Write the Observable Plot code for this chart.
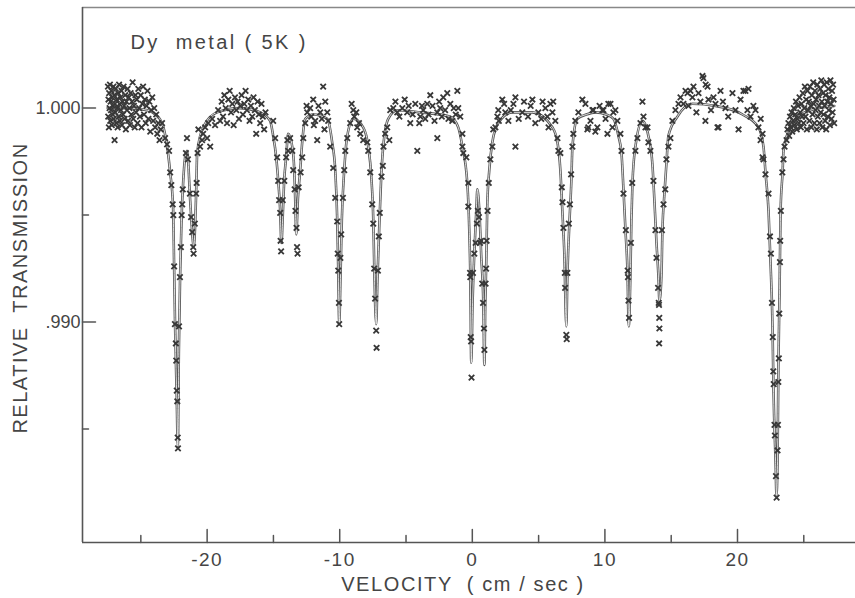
<!DOCTYPE html>
<html><head><meta charset="utf-8">
<script src="https://cdn.jsdelivr.net/npm/d3@7"></script>
<script src="https://cdn.jsdelivr.net/npm/@observablehq/plot@0.6"></script>
<style>
body{margin:0;background:#fff}
#chart svg{display:block}
</style>
</head><body><div id="chart"></div>
<script>
// ---- texts and ticks ----
const chartTitle = "Dy  metal ( 5K )";
const xTitle = "VELOCITY  ( cm / sec )";
const yTitle = "RELATIVE  TRANSMISSION";
const xMajorTicks = [-20, -10, 0, 10, 20];
const xMinorTicks = [-25, -15, -5, 5, 15, 25];
const yMajorTicks = [1.000, 0.990];
const yMinorTicks = [0.995, 0.985];
const yTickLabels = ["1.000", ".990"];
const xDomain = [-29.4, 28.9];
const yDomain = [0.9797, 1.0047];

// ---- fitted curve (velocity, transmission) ----
const fitCurve = [[-27.5,1.0000],[-26.0,1.0000],[-24.5,0.9999],[-23.9,0.9997],[-23.4,0.9993],[-22.79,0.9970],[-22.57,0.9954],[-22.49,0.9926],[-22.42,0.9899],[-22.30,0.9867],[-22.21,0.9842],[-22.13,0.9887],[-22.04,0.9921],[-21.92,0.9950],[-21.81,0.9965],[-21.66,0.9977],[-21.51,0.9980],[-21.28,0.9957],[-21.13,0.9942],[-21.02,0.9935],[-20.90,0.9946],[-20.83,0.9960],[-20.75,0.9979],[-20.30,0.9991],[-19.25,0.9998],[-17.5,1.0000],[-16.0,0.9998],[-15.25,0.9994],[-15.02,0.9987],[-14.79,0.9977],[-14.64,0.9966],[-14.49,0.9952],[-14.40,0.9937],[-14.28,0.9952],[-14.19,0.9966],[-14.04,0.9977],[-13.89,0.9988],[-13.58,0.9982],[-13.43,0.9971],[-13.36,0.9958],[-13.28,0.9941],[-13.15,0.9958],[-12.98,0.9971],[-12.83,0.9984],[-12.60,0.9995],[-12.00,0.9997],[-10.94,0.9995],[-10.57,0.9984],[-10.34,0.9971],[-10.19,0.9948],[-10.11,0.9924],[-10.04,0.9899],[-9.93,0.9924],[-9.84,0.9948],[-9.66,0.9971],[-9.43,0.9987],[-8.98,0.9995],[-8.23,0.9991],[-7.85,0.9982],[-7.62,0.9968],[-7.47,0.9948],[-7.38,0.9921],[-7.25,0.9899],[-7.15,0.9921],[-7.02,0.9944],[-6.87,0.9968],[-6.72,0.9982],[-6.34,0.9995],[-5.66,0.9999],[-3.92,0.9998],[-1.66,0.9996],[-1.06,0.9991],[-0.75,0.9982],[-0.38,0.9965],[-0.23,0.9943],[-0.15,0.9921],[-0.08,0.9881],[0.02,0.9909],[0.15,0.9932],[0.30,0.9952],[0.38,0.9962],[0.53,0.9952],[0.68,0.9930],[0.83,0.9909],[0.91,0.9880],[0.98,0.9909],[1.06,0.9930],[1.13,0.9955],[1.28,0.9971],[1.51,0.9984],[1.96,0.9993],[3.02,0.9998],[4.53,0.9998],[6.04,0.9991],[6.42,0.9984],[6.64,0.9971],[6.79,0.9952],[6.94,0.9932],[7.09,0.9898],[7.17,0.9921],[7.32,0.9946],[7.47,0.9966],[7.55,0.9982],[7.92,0.9995],[8.60,0.9997],[9.30,0.9998],[10.10,0.9997],[10.64,0.9995],[11.02,0.9987],[11.25,0.9979],[11.40,0.9962],[11.55,0.9943],[11.70,0.9924],[11.80,0.9898],[11.92,0.9921],[12.00,0.9948],[12.08,0.9965],[12.30,0.9982],[12.83,0.9994],[13.28,0.9987],[13.58,0.9974],[13.74,0.9956],[13.89,0.9937],[14.04,0.9921],[14.11,0.9910],[14.26,0.9921],[14.34,0.9943],[14.49,0.9960],[14.64,0.9974],[14.79,0.9987],[15.47,0.9996],[16.60,1.0002],[18.34,1.0001],[20.38,0.9997],[21.58,0.9991],[21.96,0.9982],[22.11,0.9970],[22.34,0.9952],[22.49,0.9928],[22.64,0.9898],[22.72,0.9867],[22.87,0.9835],[22.94,0.9819],[23.02,0.9835],[23.09,0.9882],[23.17,0.9913],[23.25,0.9952],[23.40,0.9970],[23.47,0.9980],[23.77,0.9988],[24.23,0.9994],[25.5,0.9999],[27.3,1.0001]];

// ---- measured points (velocity, transmission) ----
const bandLeft = [[-27.48,1.0010],[-27.46,0.9996],[-27.44,1.0004],[-27.41,0.9991],[-27.39,1.0007],[-27.36,1.0000],[-27.33,1.0011],[-27.31,0.9994],[-27.28,1.0003],[-27.25,0.9999],[-27.22,1.0008],[-27.19,0.9992],[-27.16,1.0005],[-27.13,0.9997],[-27.10,1.0001],[-27.07,1.0010],[-27.04,0.9995],[-27.01,1.0006],[-26.98,0.9985],[-26.95,1.0002],[-26.92,0.9998],[-26.88,1.0009],[-26.85,0.9993],[-26.82,1.0004],[-26.78,1.0000],[-26.75,0.9991],[-26.71,1.0007],[-26.68,0.9996],[-26.64,1.0011],[-26.61,1.0002],[-26.57,0.9994],[-26.53,1.0005],[-26.50,0.9999],[-26.46,1.0008],[-26.42,0.9992],[-26.38,1.0003],[-26.34,0.9997],[-26.30,1.0010],[-26.26,1.0001],[-26.22,0.9995],[-26.18,1.0006],[-26.13,0.9990],[-26.09,1.0003],[-26.05,0.9999],[-26.00,1.0009],[-25.96,0.9994],[-25.91,1.0005],[-25.86,1.0000],[-25.82,0.9992],[-25.77,1.0007],[-25.72,0.9997],[-25.67,1.0003],[-25.62,1.0012],[-25.57,0.9995],[-25.52,1.0001],[-25.46,0.9991],[-25.41,1.0006],[-25.36,0.9998],[-25.30,1.0004],[-25.25,0.9993],[-25.19,1.0009],[-25.13,1.0000],[-25.07,0.9996],[-25.01,1.0006],[-24.95,0.9991],[-24.89,1.0002],[-24.83,1.0010],[-24.76,0.9997],[-24.70,1.0004],[-24.63,0.9993],[-24.57,1.0001],[-24.50,1.0008],[-24.43,0.9995],[-24.36,1.0003],[-24.29,0.9989],[-24.22,0.9999],[-24.14,1.0005],[-24.07,0.9994],[-23.99,1.0000],[-23.92,0.9991],[-23.84,0.9997],[-23.76,0.9988],[-23.68,0.9993],[-23.59,0.9985],[-23.50,0.9990]];

const pointsA = [[-23.40,0.9993],[-23.17,0.9986],[-23.02,0.9983],[-22.87,0.9980],[-22.79,0.9970],[-22.70,0.9964],[-22.60,0.9955],[-22.55,0.9950],[-22.49,0.9926],[-22.43,0.9899],[-22.36,0.9890],[-22.33,0.9882],[-22.29,0.9868],[-22.25,0.9863],[-22.22,0.9846],[-22.20,0.9841],[-22.12,0.9898],[-21.98,0.9935],[-22.05,0.9921],[-21.92,0.9950],[-21.88,0.9955],[-21.84,0.9962],[-21.60,0.9979],[-21.52,0.9986],[-21.45,0.9976],[-21.30,0.9960],[-21.21,0.9949],[-21.13,0.9942],[-21.05,0.9935],[-21.02,0.9932],[-20.93,0.9946],[-20.83,0.9960],[-20.79,0.9965],[-20.72,0.9979],[-20.66,0.9990],[-20.53,0.9982],[-20.38,0.9985],[-20.30,0.9988],[-20.15,0.9991],[-20.00,0.9986],[-19.92,0.9993],[-19.77,0.9982],[-19.62,0.9995],[-19.40,0.9992],[-19.17,0.9999],[-19.02,0.9994],[-18.90,1.0003],[-18.80,0.9996],[-18.70,1.0006],[-18.60,1.0000],[-18.50,0.9993],[-18.40,1.0004],[-18.30,1.0008],[-18.20,0.9998],[-18.10,1.0002],[-18.00,0.9992],[-17.90,1.0005],[-17.80,0.9999],[-17.70,1.0003],[-17.60,0.9995],[-17.50,1.0001],[-17.40,1.0006],[-17.30,0.9997],[-17.20,1.0002],[-17.10,1.0008],[-17.00,0.9999],[-16.90,1.0004],[-16.80,0.9994],[-16.70,1.0001],[-16.60,0.9996],[-16.50,1.0005],[-16.40,0.9999],[-16.30,0.9988],[-16.20,1.0003],[-16.10,0.9997],[-16.00,0.9993],[-15.90,1.0002],[-15.80,0.9996],[-15.70,0.9990],[-15.60,0.9998]];

const pointsB = [[-15.02,0.9994],[-14.87,0.9986],[-14.72,0.9977],[-14.64,0.9966],[-14.57,0.9957],[-14.49,0.9951],[-14.46,0.9938],[-14.42,0.9933],[-14.30,0.9957],[-14.18,0.9966],[-14.04,0.9977],[-13.95,0.9985],[-13.89,0.9980],[-13.74,0.9986],[-13.58,0.9980],[-13.51,0.9971],[-13.40,0.9962],[-13.34,0.9952],[-13.26,0.9944],[-13.22,0.9935],[-13.18,0.9932],[-13.10,0.9963],[-12.95,0.9970],[-12.83,0.9977],[-12.75,0.9986],[-12.60,0.9993],[-12.50,1.0001],[-12.45,0.9998],[-12.23,1.0000],[-12.15,0.9996],[-12.00,1.0004],[-11.95,0.9992],[-11.85,0.9994],[-11.70,0.9985],[-11.60,1.0001],[-11.47,0.9998],[-11.35,0.9995],[-11.25,1.0010],[-11.15,0.9990],[-11.09,1.0003],[-10.94,0.9998],[-10.87,0.9994],[-10.72,0.9982],[-10.49,0.9972],[-10.34,0.9958],[-10.19,0.9947],[-10.15,0.9932],[-10.11,0.9924],[-10.06,0.9909],[-10.04,0.9899],[-9.95,0.9930],[-9.89,0.9941],[-9.76,0.9958],[-9.66,0.9971],[-9.58,0.9980],[-9.43,0.9986],[-9.21,0.9993],[-9.10,1.0002],[-8.98,0.9999],[-8.90,0.9996],[-8.75,0.9998],[-8.68,0.9991],[-8.55,0.9993],[-8.45,0.9988],[-8.23,0.9985],[-7.92,0.9984],[-7.85,0.9980],[-7.70,0.9970],[-7.55,0.9955],[-7.47,0.9946],[-7.40,0.9925],[-7.33,0.9911],[-7.25,0.9896],[-7.22,0.9888],[-7.12,0.9924],[-7.05,0.9940],[-6.98,0.9951],[-6.85,0.9968],[-6.75,0.9973],[-6.70,0.9982],[-6.57,0.9988],[-6.42,0.9991],[-6.26,0.9985],[-6.19,0.9999],[-5.96,1.0000],[-5.80,1.0003],[-5.66,0.9998],[-5.50,0.9996],[-5.28,1.0000],[-5.10,1.0004],[-4.91,0.9998],[-4.80,1.0001],[-4.68,0.9993],[-4.50,0.9997],[-4.30,1.0002],[-4.15,0.9980],[-4.00,0.9993],[-3.92,0.9996],[-3.80,1.0001],[-3.70,0.9999],[-3.55,0.9995],[-3.40,1.0002],[-3.30,0.9997],[-3.17,1.0006],[-3.00,1.0001],[-2.85,0.9994],[-2.64,0.9998],[-2.64,0.9986],[-2.50,1.0003],[-2.42,1.0000],[-2.30,0.9996],[-2.19,1.0005],[-2.05,0.9999],[-1.89,1.0007],[-1.80,0.9995],[-1.66,1.0002],[-1.51,0.9994],[-1.40,1.0000],[-1.25,0.9997],[-1.13,1.0008]];

const pointsC = [[-1.06,1.0000],[-0.91,0.9996],[-0.75,0.9988],[-0.75,0.9982],[-0.68,0.9979],[-0.45,0.9977],[-0.30,0.9965],[-0.30,0.9954],[-0.17,0.9923],[-0.15,0.9921],[-0.12,0.9893],[-0.09,0.9891],[-0.06,0.9874],[0.05,0.9923],[0.15,0.9932],[0.25,0.9937],[0.35,0.9946],[0.42,0.9952],[0.50,0.9949],[0.58,0.9937],[0.66,0.9938],[0.75,0.9918],[0.81,0.9909],[0.88,0.9897],[0.91,0.9887],[1.00,0.9918],[1.04,0.9925],[1.08,0.9938],[1.15,0.9952],[1.24,0.9965],[1.36,0.9976],[1.51,0.9982],[1.58,0.9990],[1.74,0.9991],[1.89,0.9996],[1.96,0.9999],[2.00,0.9994],[2.26,1.0004],[2.40,1.0002],[2.49,0.9998],[2.72,0.9994],[2.90,0.9999],[3.10,1.0002],[3.25,1.0005],[3.25,0.9982],[3.50,0.9995],[3.77,0.9998],[3.90,1.0003],[4.20,0.9996],[4.40,1.0001],[4.53,1.0004],[4.75,0.9993],[4.98,0.9998],[5.20,0.9995],[5.30,1.0003],[5.51,1.0000],[5.66,0.9996],[5.75,0.9991],[5.89,1.0002],[6.04,0.9998],[6.10,1.0003],[6.26,0.9994],[6.42,0.9986],[6.49,0.9980],[6.64,0.9979],[6.75,0.9963],[6.80,0.9956],[6.87,0.9944],[6.98,0.9923],[7.00,0.9916],[7.09,0.9894],[7.12,0.9892],[7.17,0.9923],[7.28,0.9946],[7.36,0.9955],[7.45,0.9969],[7.55,0.9982],[7.62,0.9988],[7.77,0.9994],[8.00,0.9998]];

const pointsD = [[8.30,1.0004],[8.53,1.0002],[8.68,0.9990],[8.75,0.9991],[8.91,0.9994],[9.06,0.9999],[9.13,0.9999],[9.28,0.9989],[9.43,0.9991],[9.60,1.0001],[9.81,0.9999],[9.89,0.9999],[10.05,0.9995],[10.19,0.9988],[10.26,1.0002],[10.42,1.0002],[10.57,0.9991],[10.64,0.9998],[10.79,0.9999],[10.94,0.9994],[11.17,0.9988],[11.25,0.9980],[11.40,0.9960],[11.58,0.9943],[11.72,0.9924],[11.74,0.9921],[11.78,0.9910],[11.82,0.9902],[11.96,0.9937],[12.06,0.9965],[12.30,0.9980],[12.45,0.9986],[12.68,0.9993],[12.83,1.0003],[12.91,0.9996],[13.06,0.9991],[13.21,0.9991],[13.28,0.9984],[13.43,0.9980],[13.66,0.9966],[13.81,0.9943],[13.89,0.9930],[14.01,0.9916],[14.06,0.9909],[14.08,0.9908],[14.10,0.9902],[14.11,0.9897],[14.09,0.9890],[14.30,0.9943],[14.42,0.9955],[14.55,0.9962],[14.64,0.9976],[14.79,0.9982],[14.94,0.9986],[15.09,0.9994],[15.32,0.9999],[15.55,1.0002],[15.70,1.0005],[15.92,1.0002],[16.08,1.0008],[16.23,1.0007],[16.30,1.0001],[16.45,1.0008],[16.60,1.0005],[16.68,1.0010],[16.90,0.9998],[17.06,1.0007],[17.20,1.0003],[17.36,1.0015],[17.43,1.0014],[17.58,0.9994],[17.60,1.0011],[17.74,1.0010],[17.81,1.0004],[18.00,0.9999],[18.19,1.0005],[18.34,1.0002],[18.49,0.9991],[18.57,0.9991],[18.72,1.0008],[18.90,1.0003],[19.09,1.0000],[19.30,0.9996],[19.62,1.0007],[19.85,0.9999],[20.08,0.9990],[20.23,1.0004],[20.45,1.0008],[20.60,1.0008],[20.75,0.9999],[20.83,1.0009],[20.98,0.9996],[21.20,1.0001],[21.36,0.9999],[21.58,0.9991],[21.75,0.9995],[21.89,0.9988]];

const pointsE = [[21.74,0.9985],[21.89,0.9977],[21.96,0.9976],[22.11,0.9969],[22.34,0.9960],[22.45,0.9940],[22.52,0.9932],[22.60,0.9909],[22.66,0.9893],[22.70,0.9877],[22.73,0.9871],[22.79,0.9852],[22.82,0.9847],[22.90,0.9828],[22.95,0.9818],[23.02,0.9840],[23.05,0.9852],[23.08,0.9872],[23.12,0.9883],[23.15,0.9904],[23.20,0.9928],[23.22,0.9938],[23.27,0.9952],[23.38,0.9970],[23.47,0.9976],[23.55,0.9982],[23.70,0.9985],[23.77,0.9990]];

const bandRight = [[23.84,0.9993],[23.90,0.9987],[23.96,0.9996],[24.02,0.9991],[24.08,0.9998],[24.13,0.9989],[24.19,0.9994],[24.25,1.0000],[24.30,0.9992],[24.36,0.9997],[24.41,1.0003],[24.47,0.9990],[24.52,0.9995],[24.57,1.0001],[24.63,0.9993],[24.68,1.0005],[24.73,0.9998],[24.78,0.9991],[24.83,1.0002],[24.88,0.9996],[24.93,1.0007],[24.98,0.9993],[25.03,1.0000],[25.08,1.0010],[25.13,0.9996],[25.18,1.0004],[25.23,0.9990],[25.28,1.0008],[25.33,0.9999],[25.38,1.0003],[25.42,0.9994],[25.47,1.0010],[25.52,1.0001],[25.57,0.9991],[25.61,1.0006],[25.66,0.9997],[25.71,1.0012],[25.75,1.0002],[25.80,0.9993],[25.84,1.0008],[25.89,0.9999],[25.93,1.0004],[25.98,0.9990],[26.02,1.0011],[26.06,0.9996],[26.11,1.0006],[26.15,1.0001],[26.19,0.9993],[26.24,1.0009],[26.28,0.9998],[26.32,1.0013],[26.36,1.0003],[26.40,0.9991],[26.45,1.0007],[26.49,0.9997],[26.53,1.0011],[26.57,1.0001],[26.61,0.9994],[26.65,1.0006],[26.69,0.9990],[26.73,1.0012],[26.77,1.0003],[26.81,0.9996],[26.85,1.0009],[26.89,0.9999],[26.93,1.0005],[26.97,0.9992],[27.01,1.0013],[27.05,1.0002],[27.09,0.9995],[27.13,1.0008],[27.17,0.9998],[27.21,1.0011],[27.25,1.0004],[27.29,0.9993]];

const measured = [...bandLeft, ...pointsA, ...pointsB, ...pointsC, ...pointsD, ...pointsE, ...bandRight];

const ink = "#383838";
const textInk = "#454545";
const font = "Liberation Sans, Arial, sans-serif";
const xMin = xDomain[0], yMin = yDomain[0], yMax = yDomain[1];

const plot = Plot.plot({
  width: 855,
  height: 598,
  marginLeft: 82,
  marginRight: 0,
  marginTop: 7,
  marginBottom: 56,
  style: {fontFamily: font, fontSize: "19px", color: textInk, background: "#fff", overflow: "visible"},
  x: {domain: xDomain, axis: null},
  y: {domain: yDomain, axis: null},
  marks: [
    // frame lines
    Plot.ruleY([yMax], {stroke: "#888", strokeWidth: 1.4}),
    Plot.ruleY([yMin], {stroke: "#555", strokeWidth: 1.6}),
    Plot.ruleX([xMin], {stroke: "#555", strokeWidth: 1.6}),
    // fitted curve, drawn hollow like the original
    Plot.line(fitCurve, {x: d => d[0], y: d => d[1], curve: "monotone-x", stroke: "#555", strokeWidth: 2.6}),
    Plot.line(fitCurve, {x: d => d[0], y: d => d[1], curve: "monotone-x", stroke: "#fff", strokeWidth: 0.8}),
    // measured points
    Plot.dot(measured, {x: d => d[0], y: d => d[1], symbol: "times", r: 2.6, stroke: ink, strokeWidth: 1.8}),
    // inward ticks
    Plot.vector(xMajorTicks, {x: d => d, y: yMin, length: 13, rotate: 0, anchor: "start", r: 0, stroke: "#555", strokeWidth: 1.5}),
    Plot.vector(xMinorTicks, {x: d => d, y: yMin, length: 7, rotate: 0, anchor: "start", r: 0, stroke: "#555", strokeWidth: 1.5}),
    Plot.vector(yMajorTicks, {x: xMin, y: d => d, length: 13, rotate: 90, anchor: "start", r: 0, stroke: "#555", strokeWidth: 1.5}),
    Plot.vector(yMinorTicks, {x: xMin, y: d => d, length: 6, rotate: 90, anchor: "start", r: 0, stroke: "#555", strokeWidth: 1.5}),
    // tick labels
    Plot.axisX({ticks: xMajorTicks, tickSize: 0, tickPadding: 10, tickFormat: d => String(d), fontSize: 19, label: null}),
    Plot.axisY({ticks: yMajorTicks, tickSize: 0, tickPadding: 2, tickFormat: d => yTickLabels[yMajorTicks.indexOf(d)], fontSize: 18, label: null}),
    // titles
    Plot.text([xTitle], {text: d => d, frameAnchor: "bottom", dx: -6, dy: 48, lineAnchor: "bottom", textAnchor: "middle", fontSize: 20, fill: textInk}),
    Plot.text([yTitle], {text: d => d, frameAnchor: "left", rotate: -90, dx: -56, dy: 13, lineAnchor: "bottom", textAnchor: "middle", fontSize: 20, fill: textInk}),
    Plot.text([chartTitle], {text: d => d, frameAnchor: "top-left", dx: 48, dy: 41, lineAnchor: "bottom", textAnchor: "start", fontSize: 20, fill: textInk})
  ]
});

// letter spacing like the original lettering
const spacing = new Map([[chartTitle, "2.4px"], [xTitle, "1.6px"], [yTitle, "1.5px"]]);
xMajorTicks.forEach(t => spacing.set(String(t), "1.5px"));
d3.select(plot).selectAll("text").each(function () {
  const s = spacing.get(this.textContent);
  if (s) this.setAttribute("letter-spacing", s);
});
document.getElementById("chart").appendChild(plot);
</script>
</body></html>
